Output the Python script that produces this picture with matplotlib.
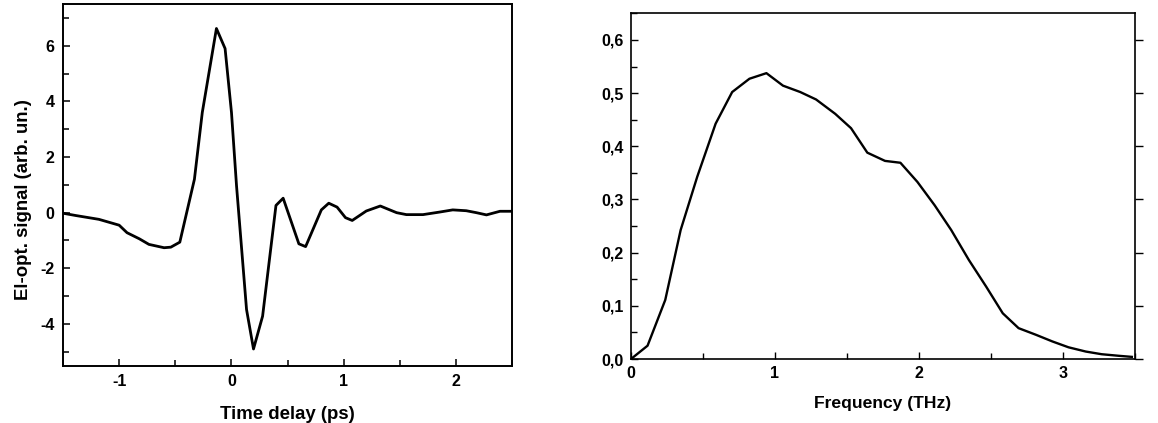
import matplotlib
matplotlib.use("Agg")
import matplotlib.pyplot as plt
from matplotlib.ticker import MultipleLocator, FuncFormatter

# Left panel: electro-optic signal vs time delay
time_ps = [-1.5, -1.39, -1.18, -1.0, -0.93, -0.82, -0.735, -0.60, -0.54, -0.46,
           -0.33, -0.26, -0.134, -0.057, 0.0, 0.045, 0.134, 0.196, 0.277, 0.396,
           0.46, 0.60, 0.66, 0.80, 0.866, 0.94, 1.015, 1.075, 1.2, 1.325,
           1.47, 1.557, 1.705, 1.85, 1.97, 2.09, 2.18, 2.27, 2.39, 2.5]
signal = [-0.02, -0.1, -0.24, -0.45, -0.72, -0.94, -1.14, -1.26, -1.24, -1.06,
          1.2, 3.6, 6.62, 5.9, 3.6, 0.96, -3.48, -4.9, -3.72, 0.26,
          0.52, -1.12, -1.22, 0.1, 0.34, 0.2, -0.18, -0.28, 0.06, 0.24,
          0.0, -0.07, -0.07, 0.02, 0.1, 0.07, 0.0, -0.08, 0.05, 0.05]

# Right panel: spectrum
freq_thz = [0, 0.115, 0.238, 0.345, 0.46, 0.588, 0.703, 0.823, 0.941, 1.056,
            1.176, 1.286, 1.419, 1.529, 1.642, 1.765, 1.872, 1.99, 2.11, 2.225,
            2.348, 2.468, 2.583, 2.693, 2.813, 2.928, 3.04, 3.16, 3.27, 3.39, 3.48]
amplitude = [0, 0.025, 0.111, 0.2425, 0.3425, 0.4425, 0.502, 0.527, 0.5375, 0.514,
             0.502, 0.488, 0.461, 0.434, 0.388, 0.3725, 0.369, 0.333, 0.289, 0.2425,
             0.186, 0.136, 0.086, 0.058, 0.0456, 0.033, 0.022, 0.014, 0.009, 0.006, 0.004]

plt.rcParams['font.family'] = ['Liberation Sans', 'DejaVu Sans']
plt.rcParams['font.weight'] = 'bold'
plt.rcParams['axes.unicode_minus'] = False

fig = plt.figure(figsize=(11.58, 4.23), dpi=100)

# ---- left panel
ax1 = fig.add_axes([0.0544, 0.1355, 0.4424 - 0.0544, 0.9905 - 0.1355])
ax1.plot(time_ps, signal, color='black', lw=2.0)
ax1.set_xlim(-1.5, 2.5)
ax1.set_ylim(-5.5, 7.5)
ax1.xaxis.set_major_locator(MultipleLocator(1))
ax1.xaxis.set_minor_locator(MultipleLocator(0.5))
ax1.yaxis.set_major_locator(MultipleLocator(2))
ax1.yaxis.set_minor_locator(MultipleLocator(1))
ax1.tick_params(which='both', direction='in', top=False, right=False,
                labelsize=11.5, width=1.1, pad=6)
ax1.tick_params(which='major', length=5)
ax1.tick_params(which='minor', length=4.5)
for lab in ax1.get_xticklabels() + ax1.get_yticklabels():
    lab.set_fontweight('bold')
ax1.set_xlabel('Time delay (ps)', fontsize=13.4, fontweight='bold', labelpad=12)
ax1.set_ylabel('El-opt. signal (arb. un.)', fontsize=13.4, fontweight='bold')
ax1.yaxis.set_label_coords(-0.07, 0.46)
for sp in ax1.spines.values():
    sp.set_linewidth(1.4)

# ---- right panel
ax2 = fig.add_axes([0.5449, 0.1513, 0.9799 - 0.5449, 0.9685 - 0.1513])
ax2.plot(freq_thz, amplitude, color='black', lw=1.7)
ax2.set_xlim(0, 3.5)
ax2.set_ylim(0, 0.65)
ax2.xaxis.set_major_locator(MultipleLocator(1))
ax2.xaxis.set_minor_locator(MultipleLocator(0.5))
ax2.yaxis.set_major_locator(MultipleLocator(0.1))
ax2.yaxis.set_minor_locator(MultipleLocator(0.05))
ax2.yaxis.set_major_formatter(FuncFormatter(lambda v, p: f"{v:.1f}".replace('.', ',')))
ax2.tick_params(which='both', direction='in', top=False, right=False,
                labelsize=11.5, width=1.0, pad=5)
ax2.tick_params(which='major', length=5)
ax2.tick_params(which='minor', length=4.5)
for lab in ax2.get_xticklabels() + ax2.get_yticklabels():
    lab.set_fontweight('bold')
ax2.set_xlabel('Frequency (THz)', fontsize=12.6, fontweight='bold', labelpad=11)
for sp in ax2.spines.values():
    sp.set_linewidth(1.2)

ax3 = ax2.twinx()
ax3.set_ylim(ax2.get_ylim())
ax3.yaxis.set_major_locator(MultipleLocator(0.1))
ax3.yaxis.set_minor_locator(MultipleLocator(0.05))
ax3.tick_params(axis='y', which='major', direction='out', length=6, width=1.0,
                labelright=False)
ax3.tick_params(axis='y', which='minor', length=0)
for sp in ax3.spines.values():
    sp.set_visible(False)

fig.savefig('out.png', dpi=100)
